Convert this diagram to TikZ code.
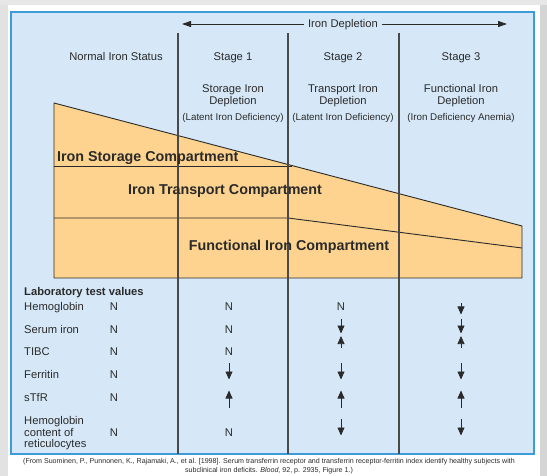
\documentclass[tikz,border=0pt]{standalone}
\usepackage{fontspec}
\setmainfont{Liberation Sans}
\usetikzlibrary{arrows.meta,positioning}
\definecolor{fepanel}{HTML}{D6E8F7}
\definecolor{feframe}{HTML}{3D9BDA}
\definecolor{feorange}{HTML}{FDD38F}
\definecolor{fedark}{HTML}{2A2A2A}
\definecolor{fegrey}{HTML}{CACACA}

\begin{document}
\begin{tikzpicture}[x=1pt,y=-1pt,
  every node/.style={font=\fontsize{11.2}{12}\selectfont,inner sep=1pt,text=fedark},
  line/.style={text height=8pt,text depth=0.5pt},
  note/.style={font=\fontsize{9.8}{11}\selectfont},
  cmp/.style={font=\fontsize{14.3}{16}\selectfont\bfseries,text height=10.2pt,text depth=0.5pt},
  lab/.style={anchor=west,align=left,font=\fontsize{11.2}{11.6}\selectfont},
  labhd/.style={anchor=west,line,font=\fontsize{11.2}{12}\selectfont\bfseries},
  srcnote/.style={align=center,font=\fontsize{7.1}{9}\selectfont},
  stg/.style={draw=fedark!85,line width=1.1pt},
  wall/.style={draw=fedark,line width=0.9pt,line join=round},
  tiparr/.style={line width=0.7pt,fedark,-{Triangle[width=7pt,length=8pt]}},
  pics/nval/.style={code={\node[line] (-n) {N};}},
  pics/downarr/.style={code={\draw[tiparr] (0,\sh-\al/2) -- (0,\sh+\al/2);}},
  pics/uparr/.style={code={\draw[tiparr] (0,\sh+\al/2) -- (0,\sh-\al/2);}}]
\useasboundingbox (0,0) rectangle (547,476);
% page around the figure
\fill[white] (0,0) rectangle (547,476);
\fill[fegrey!55] (0,0) rectangle (8,476);
\fill[fegrey!45] (0,0) rectangle (547,5);
\fill[fegrey!80] (540,5) rectangle (547,476);
\filldraw[fill=fepanel,draw=feframe,line width=1.3pt] (11,12) rectangle (534,454);

% compartments
\draw[wall,fill=feorange] (54,103) -- (522,226) -- (522,278) -- (54,278) -- cycle;
\draw[wall] (54,166) -- (292,166);
\draw[wall] (54,218) -- (288,218) -- (522,248);
\foreach \x in {178,288,399}
  \draw[stg] (\x,33) -- (\x,454);
\node[cmp,anchor=west] (store) at (56,157) {Iron Storage Compartment};
\node[cmp] (trans) at (225,190) {Iron Transport Compartment};
\node[cmp] (func) at (289,246) {Functional Iron Compartment};

% headings
\node[line,fill=fepanel,inner xsep=4pt] (dep) at (343,24) {Iron Depletion};
\coordinate (depl) at (182,24);
\coordinate (depr) at (507,24);
\draw[tiparr,line width=0.9pt,-{Triangle[width=6pt,length=9pt]}] (dep) -- (depl);
\draw[tiparr,line width=0.9pt,-{Triangle[width=6pt,length=9pt]}] (dep) -- (depr);
\node[line] (norm) at (116,57) {Normal Iron Status};
\node[line] (st1) at (233,57) {Stage 1};
\node[line] (st2) at (343,57) {Stage 2};
\node[line] (st3) at (461,57) {Stage 3};
\node[align=center] (st1t) at (233,96) {Storage Iron\\Depletion};
\node[align=center] (st2t) at (343,96) {Transport Iron\\Depletion};
\node[align=center] (st3t) at (461,96) {Functional Iron\\Depletion};
\node[note] (st1n) at (233,118) {(Latent Iron Deficiency)};
\node[note] (st2n) at (343,118) {(Latent Iron Deficiency)};
\node[note] (st3n) at (461,118) {(Iron Deficiency Anemia)};

% laboratory values
\node[labhd] (labs) at (23,292) {Laboratory test values};
\foreach \y/\ay/\al/\t/\a/\b/\c [count=\i] in {
    307/309/11/Hemoglobin/nval/nval/downarr,
    330/326/15/Serum iron/nval/downarr/downarr,
    352/342/12/TIBC/nval/uparr/uparr,
    375/371/17/Ferritin/downarr/downarr/downarr,
    398/399/17/sTfR/uparr/uparr/uparr,
    433/427/17/{}/nval/downarr/downarr}{
  \pgfmathsetmacro\sh{\ay-\y}
  \ifnum\i<6 \node[lab,line] (row\i) at (23,\y) {\t};\fi
  \node[line] (nrm\i) at (114,\y) {N};
  \pic (a\i) at (229,\y) {\a};
  \pic (b\i) at (341,\y) {\b};
  \pic (c\i) at (461,\y) {\c};
}
\node[lab] (row6) at (23,433.5) {Hemoglobin\\content of\\reticulocytes};

\node[srcnote] (src) at (269,466) {(From Suominen, P., Punnonen, K., Rajamaki, A., et al. [1998]. Serum transferrin receptor and transferrin receptor-ferritin index identify healthy subjects with\\subclinical iron deficits. \textit{Blood}, 92, p. 2935, Figure 1.)};
\end{tikzpicture}
\end{document}
